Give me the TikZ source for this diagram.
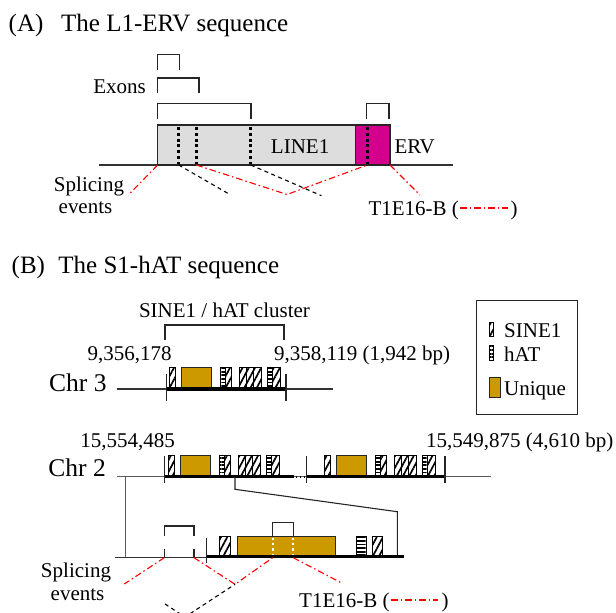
\documentclass[tikz,border=0pt]{standalone}
\usepackage{fontspec}
\setmainfont{Liberation Serif}
\usetikzlibrary{patterns.meta}
\definecolor{gold}{RGB}{204,153,0}
\definecolor{ervmag}{RGB}{210,0,140}
\definecolor{boxgray}{RGB}{221,221,221}
\definecolor{linegray}{RGB}{90,90,90}
\tikzset{
  body/.style={font=\fontsize{21}{25}\selectfont, inner sep=0pt},
  ttl/.style={font=\fontsize{25}{30}\selectfont, inner sep=0pt},
  chrlbl/.style={font=\fontsize{25.5}{30}\selectfont, inner sep=0pt},
  thinline/.style={line width=1.1pt, black!80},
  boxline/.style={line width=1.1pt, draw=black!85},
  thickbar/.style={line width=3.4pt, black},
  tickline/.style={line width=1.1pt, black!85},
  brk/.style={line width=1.3pt, black!85},
  dotv/.style={line width=2.8pt, black, dash pattern=on 2.8pt off 2.9pt},
  wdotv/.style={line width=2.2pt, white, dash pattern=on 2.2pt off 3pt},
  reddd/.style={red, line width=1.1pt, dash pattern=on 6.5pt off 3pt on 1.5pt off 3pt},
  blkd/.style={black, line width=1.1pt, dash pattern=on 4pt off 3.5pt},
  sinestyle/.style={draw=black, line width=1pt, preaction={fill=white},
     pattern={Lines[angle=62,distance=5.5pt,line width=1.7pt]}},
  hatstyle/.style={draw=black, line width=1pt, preaction={fill=white},
     pattern={Lines[angle=0,distance=3.6pt,line width=1.8pt]}},
  uniqstyle/.style={draw=black!85, line width=1pt, fill=gold},
}
\newcommand{\sinebox}[4]{\draw[sinestyle] (#1,#3) rectangle (#2,#4);}
\newcommand{\hatbox}[4]{\draw[hatstyle] (#1,#3) rectangle (#2,#4);}
\newcommand{\elemrow}[3]{%
  \begin{scope}[shift={(#1,0)}]
    \sinebox{-12}{-6}{#2}{#3}
    \draw[uniqstyle] (0,#2) rectangle (29.8,#3);
    \hatbox{39}{43.8}{#2}{#3}
    \sinebox{43.8}{49.5}{#2}{#3}
    \sinebox{58}{65}{#2}{#3}
    \sinebox{65}{72}{#2}{#3}
    \sinebox{72}{79.5}{#2}{#3}
    \hatbox{86}{91}{#2}{#3}
    \sinebox{91}{99}{#2}{#3}
  \end{scope}}
\begin{document}
\begin{tikzpicture}[x=1pt,y=-1pt]
\useasboundingbox (0,0) rectangle (616,613);

% ---------------- Panel A ----------------
\node[ttl, anchor=base west] (labA) at (8.5,31.7) {(A)};
\node[ttl, anchor=base west] (titA) at (61,31.7) {The L1-ERV sequence};

\draw[thinline] (99,165) -- (453,165);
\draw[boxline, fill=boxgray] (157.7,125) rectangle (355.7,165);
\draw[boxline, fill=ervmag] (355.7,125) rectangle (390,165);
\foreach \xx in {178.7,196.3,250.7,367.3} \draw[dotv] (\xx,127.3) -- (\xx,165);

\draw[brk] (157.7,70) |- (179.7,54.7) -- (179.7,70);
\draw[brk] (157.7,93) |- (199,78) -- (199,93);
\draw[brk] (157.7,119) |- (251,103.3) -- (251,119);
\draw[brk] (366.7,119) |- (389,103.3) -- (389,119);

\node[body, anchor=base east] (exons) at (146,93) {Exons};
\node[body, anchor=base east] (line1) at (329.5,153) {LINE1};
\node[body, anchor=base west] (erv) at (394.3,153) {ERV};
\node[body, anchor=base] (splA) at (89,191) {Splicing};
\node[body, anchor=base] (evA) at (85.5,213) {events};

\coordinate (a1) at (157.7,165);
\coordinate (a2) at (196.3,165);
\coordinate (a3) at (367.3,165);
\coordinate (a4) at (390,165);
\coordinate (av) at (287,194.5);
\draw[reddd] (a1) -- (128.3,195);
\draw[reddd] (a2) -- (av) -- (a3);
\draw[reddd] (a4) -- (420,195);
\draw[blkd] (178.7,165) -- (229,194);
\draw[blkd] (250.7,165) -- (321.5,195.7);

\node[body, anchor=base west] (tA) at (368.3,215) {T1E16-B (};
\node[body, anchor=base west] (pA) at (510.5,215) {)};
\draw[reddd] (460,208) -- (508,208);

% ---------------- Panel B ----------------
\node[ttl, anchor=base west] (labB) at (11.5,273.3) {(B)};
\node[ttl, anchor=base west] (titB) at (58.2,273.3) {The S1-hAT sequence};

\node[body, anchor=base] (clus) at (224.5,317) {SINE1 / hAT cluster};
\draw[brk] (165,340) |- (284,325) -- (284,340);
\node[body, anchor=base east] (n1) at (171.7,360) {9,356,178};
\node[body, anchor=base west] (n2) at (274,360) {9,358,119 (1,942 bp)};

% Chr 3
\node[chrlbl, anchor=base east] (chr3) at (106.7,391.5) {Chr 3};
\draw[thinline] (116.7,389) -- (333,389);
\elemrow{181.7}{367}{388.5}
\draw[thickbar] (166.7,389) -- (286,389);
\draw[tickline] (166.7,374) -- (166.7,401);
\draw[tickline] (286,374) -- (286,401);

% Legend
\draw[line width=1.3pt, black!85] (476.7,300.7) rectangle (577.7,414.3);
\sinebox{489.3}{493.5}{322}{336.7}
\node[body, anchor=base west] (lgS) at (504,337.5) {SINE1};
\hatbox{489.3}{493.5}{345}{360}
\node[body, anchor=base west] (lgH) at (504,361.5) {hAT};
\draw[uniqstyle] (489.3,377.3) rectangle (500,397.3);
\node[body, anchor=base west] (lgU) at (504,395.5) {Unique};

% Chr 2
\node[body, anchor=base east] (n3) at (175,447) {15,554,485};
\node[body, anchor=base east] (n4) at (613.5,447) {15,549,875 (4,610 bp)};
\node[chrlbl, anchor=base east] (chr2) at (106,476.5) {Chr 2};
\draw[line width=1.1pt, linegray] (117.3,476.7) -- (490.7,476.7);
\elemrow{180.7}{455}{476}
\elemrow{336.7}{455}{476}
\draw[thickbar] (164.3,476.7) -- (294,476.7);
\draw[line width=1.6pt, black, dash pattern=on 1.6pt off 2.4pt] (295.5,476.7) -- (306,476.7);
\draw[thickbar] (306.7,476.7) -- (445,476.7);
\foreach \xx in {164.3,306.7,445} \draw[tickline] (\xx,456) -- (\xx,483);

% Zoom connectors
\draw[line width=1.1pt, linegray] (125.7,476.7) -- (125.7,557.7);
\draw[line width=1.1pt, black!85] (235,476.7) -- (235,489.3) -- (397.3,511.7) -- (397.3,556);

% Lower detail
\draw[thinline] (115,557.7) -- (206.7,557.7);
\sinebox{219.3}{230}{536.7}{556}
\draw[uniqstyle] (237.3,536.7) rectangle (335.3,556.5);
\foreach \xx in {272.7,293.3} \draw[wdotv] (\xx,538) -- (\xx,556);
\hatbox{356.7}{366.7}{536.7}{556}
\sinebox{372.7}{382.7}{536.7}{556}
\draw[thickbar] (206.7,556.5) -- (404,556.5);
\draw[tickline] (206.7,538) -- (206.7,563);

\draw[brk] (164.3,536) |- (194,526) -- (194,536);
\draw[brk] (164.3,548.5) -- (164.3,557.7);
\draw[brk] (194,548.5) -- (194,557.7);
\draw[brk] (272.7,536.7) |- (293.3,522.3) -- (293.3,536.7);

\coordinate (b1) at (164.3,557.7);
\coordinate (b2) at (194,557.7);
\coordinate (bv) at (235,584.3);
\coordinate (b3) at (272.7,557.7);
\coordinate (b4) at (293.3,557.7);
\draw[reddd] (b1) -- (124.3,584);
\draw[reddd] (b2) -- (bv) -- (b3);
\draw[reddd] (b4) -- (341,582.7);
\begin{scope}
  \clip (0,0) rectangle (616,613);
  \draw[blkd] (165,604) -- (185,617) -- (bv);
\end{scope}

\node[body, anchor=base] (splB) at (76,577.5) {Splicing};
\node[body, anchor=base] (evB) at (77.5,600) {events};
\node[body, anchor=base west] (tB) at (299,607) {T1E16-B (};
\node[body, anchor=base west] (pB) at (441.5,607) {)};
\draw[reddd] (391,600) -- (437.5,600);
\end{tikzpicture}
\end{document}
